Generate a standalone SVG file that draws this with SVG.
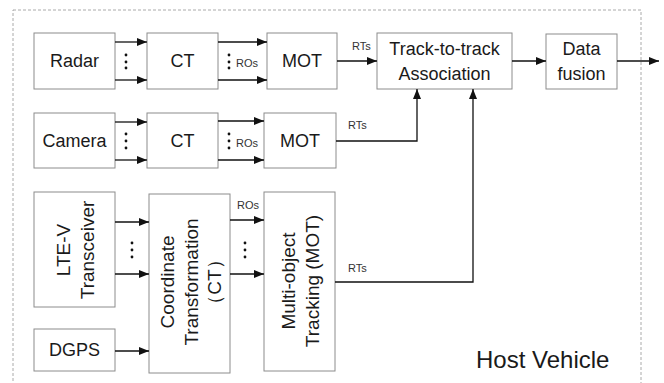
<svg xmlns="http://www.w3.org/2000/svg" width="664" height="383" viewBox="0 0 664 383">
<style>
.box{fill:#fff;stroke:#8c8c8c;stroke-width:1}
.t{font-family:"Liberation Sans",Arial,sans-serif;font-size:18px;fill:#1a1a1a;text-anchor:middle}
.r{font-size:19px}
.s{font-family:"Liberation Sans",Arial,sans-serif;font-size:11px;fill:#333}
.c{fill:none;stroke:#111;stroke-width:1.3}
.a{marker-end:url(#ah)}
.dot{fill:#111}
</style>
<defs>
<marker id="ah" markerUnits="userSpaceOnUse" markerWidth="10" markerHeight="8" refX="10" refY="4" orient="auto">
<path d="M0,0 L10,4 L0,8 z" fill="#111"/>
</marker>
</defs>
<rect x="13" y="10" width="628" height="400" fill="none" stroke="#aaa" stroke-width="1" stroke-dasharray="3 2"/>

<g id="radar"><rect class="box" x="34" y="33" width="81" height="56"/><text class="t" x="74.5" y="67">Radar</text></g>
<g id="ct1"><rect class="box" x="147" y="33" width="71" height="56"/><text class="t" x="182.5" y="67">CT</text></g>
<g id="mot1"><rect class="box" x="267" y="33" width="70" height="56"/><text class="t" x="302" y="67">MOT</text></g>
<g id="camera"><rect class="box" x="34" y="113" width="81" height="55"/><text class="t" x="74.5" y="147">Camera</text></g>
<g id="ct2"><rect class="box" x="147" y="113" width="71" height="55"/><text class="t" x="182.5" y="147">CT</text></g>
<g id="mot2"><rect class="box" x="264" y="113" width="72" height="55"/><text class="t" x="300" y="147">MOT</text></g>
<g id="t2t"><rect class="box" x="377" y="33" width="135" height="56"/><text class="t" x="444.5" y="55">Track-to-track</text><text class="t" x="444.5" y="80">Association</text></g>
<g id="fusion"><rect class="box" x="546" y="34" width="71" height="55"/><text class="t" x="581.5" y="55">Data</text><text class="t" x="581.5" y="80">fusion</text></g>
<g id="ltev"><rect class="box" x="34" y="192" width="81" height="115"/><text class="t r" transform="translate(70,250) rotate(-90)">LTE-V</text><text class="t r" transform="translate(94,250) rotate(-90)">Transceiver</text></g>
<g id="dgps"><rect class="box" x="34" y="329" width="81" height="42"/><text class="t" x="74.5" y="356">DGPS</text></g>
<g id="ct3"><rect class="box" x="149" y="194" width="81" height="179"/><text class="t r" transform="translate(174,282) rotate(-90)">Coordinate</text><text class="t r" transform="translate(198,282) rotate(-90)">Transformation</text><text class="t r" transform="translate(221,282) rotate(-90)">（CT）</text></g>
<g id="mot3"><rect class="box" x="264" y="192" width="71" height="179"/><text class="t r" transform="translate(295,281) rotate(-90)">Multi-object</text><text class="t r" transform="translate(319,281) rotate(-90)">Tracking (MOT)</text></g>

<g id="connectors">
<path class="c a" d="M115,42 H147"/>
<path class="c a" d="M115,80 H147"/>
<path class="c a" d="M218,42 H267"/>
<path class="c a" d="M218,80 H267"/>
<path class="c a" d="M337,61 H377"/>
<path class="c a" d="M512,61 H546"/>
<path class="c a" d="M617,61 H659"/>
<path class="c a" d="M115,122 H147"/>
<path class="c a" d="M115,160 H147"/>
<path class="c a" d="M218,121 H264"/>
<path class="c a" d="M218,160 H264"/>
<path class="c a" d="M336,141 H417 V89"/>
<path class="c a" d="M115,222 H149"/>
<path class="c a" d="M115,274 H149"/>
<path class="c a" d="M115,351 H149"/>
<path class="c a" d="M230,220 H264"/>
<path class="c a" d="M230,274 H264"/>
<path class="c a" d="M335,282 H473 V89"/>
</g>

<g id="dots">
<circle class="dot" cx="126" cy="55" r="1.4"/><circle class="dot" cx="126" cy="62" r="1.4"/><circle class="dot" cx="126" cy="68" r="1.4"/>
<circle class="dot" cx="229" cy="55" r="1.4"/><circle class="dot" cx="229" cy="62" r="1.4"/><circle class="dot" cx="229" cy="68" r="1.4"/>
<circle class="dot" cx="126" cy="134" r="1.4"/><circle class="dot" cx="126" cy="141" r="1.4"/><circle class="dot" cx="126" cy="148" r="1.4"/>
<circle class="dot" cx="229" cy="134" r="1.4"/><circle class="dot" cx="229" cy="141" r="1.4"/><circle class="dot" cx="229" cy="148" r="1.4"/>
<circle class="dot" cx="132" cy="243" r="1.4"/><circle class="dot" cx="132" cy="250" r="1.4"/><circle class="dot" cx="132" cy="257" r="1.4"/>
<circle class="dot" cx="245" cy="243" r="1.4"/><circle class="dot" cx="245" cy="250" r="1.4"/><circle class="dot" cx="245" cy="257" r="1.4"/>
</g>

<g id="labels">
<text class="s" x="236" y="67">ROs</text>
<text class="s" x="236" y="147">ROs</text>
<text class="s" x="237" y="209">ROs</text>
<text class="s" x="352" y="50">RTs</text>
<text class="s" x="348" y="129">RTs</text>
<text class="s" x="348" y="272">RTs</text>
<text x="476" y="368" style="font-family:'Liberation Sans',Arial,sans-serif;font-size:24px;fill:#1a1a1a">Host Vehicle</text>
</g>
</svg>
